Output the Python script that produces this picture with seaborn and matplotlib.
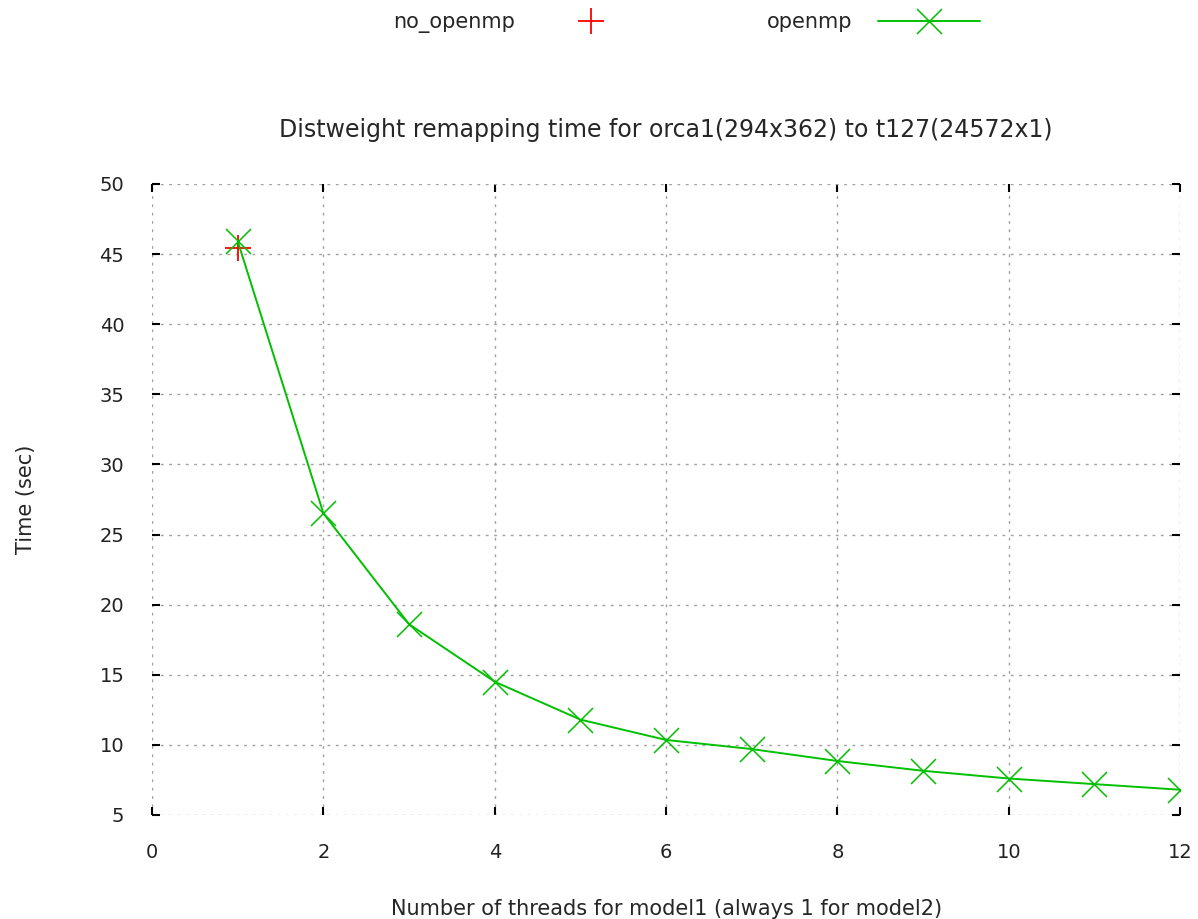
import numpy as np
import pandas as pd
import matplotlib
matplotlib.use('Agg')
import matplotlib.pyplot as plt
import seaborn as sns

# 数据
threads_no = [1]
time_no = [45.4]
threads = [1, 2, 3, 4, 5, 6, 7, 8, 9, 10, 11, 12]
time_omp = [45.9, 26.5, 18.6, 14.5, 11.8, 10.35, 9.7, 8.85, 8.15, 7.6, 7.2, 6.8]

sns.set_theme(style='white')
plt.rcParams['font.family'] = ['DejaVu Sans']

fig = plt.figure(figsize=(11.98, 9.19), dpi=100)
ax = fig.add_axes([0.127, 0.1132, 0.858, 0.6866])

df_no = pd.DataFrame({'x': threads_no, 'y': time_no})
df_omp = pd.DataFrame({'x': threads, 'y': time_omp})

sns.lineplot(data=df_no, x='x', y='y', ax=ax, color='#ff0000', marker='+',
             markersize=19, markeredgewidth=1.3, markeredgecolor='#ff0000',
             linestyle='none', label='no_openmp')
sns.lineplot(data=df_omp, x='x', y='y', ax=ax, color='#00c000', marker='x',
             markersize=18, markeredgewidth=1.1, markeredgecolor='#00c000',
             linewidth=1.4, label='openmp')

ax.set_xlim(0, 12)
ax.set_ylim(5, 50)
ax.set_xticks(range(0, 13, 2))
ax.set_yticks(range(5, 51, 5))
ax.grid(True, linestyle=(0, (2, 4)), color='#a0a0a0', linewidth=1)
for s in ax.spines.values():
    s.set_visible(False)
ax.tick_params(direction='in', length=6, width=1.5, color='black',
               top=True, right=True, bottom=True, left=True,
               labelsize=14, pad=20, labelcolor='#222222')

ax.set_xlabel('Number of threads for model1 (always 1 for model2)', fontsize=15, labelpad=27)
ax.set_ylabel('Time (sec)', fontsize=15, labelpad=46)
ax.set_title('Distweight remapping time for orca1(294x362) to t127(24572x1)', fontsize=17, pad=34)

ax.get_legend().remove()
handles, labels = ax.get_legend_handles_labels()
fig.legend(handles, labels, loc='upper center', bbox_to_anchor=(0.573, 1.007), ncol=2,
           frameon=False, markerfirst=False, fontsize=15, handlelength=4.9,
           columnspacing=6.0, handletextpad=1.2)

fig.savefig('out.png', dpi=100)
